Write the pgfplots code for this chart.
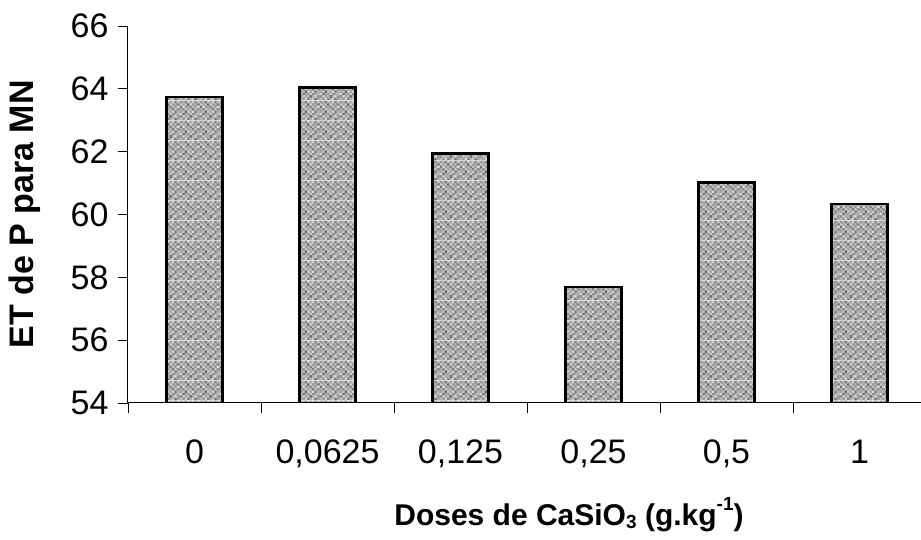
\documentclass[border=0pt]{standalone}
\usepackage{pgfplots}
\pgfplotsset{compat=1.18}
\usepackage{fontspec}
\setmainfont{Liberation Sans}
\usetikzlibrary{patterns}

\pgfdeclarepatterninherentlycolored{speckle}{\pgfpointorigin}{\pgfqpoint{20pt}{20pt}}{\pgfqpoint{20pt}{20pt}}{%
  \pgfsetfillcolor{black!33}%
  \pgfpathrectangle{\pgfpointorigin}{\pgfqpoint{20pt}{20pt}}%
  \pgfusepath{fill}%
  \foreach \c [count=\i from 0] in {25,40,15,50,30,20,55,35,
                                    45,20,35,25,60,30,15,40,
                                    15,55,30,40,20,45,35,25,
                                    35,25,62,20,35,15,50,30,
                                    30,45,20,35,25,55,20,45,
                                    55,15,40,30,50,25,40,15,
                                    20,35,25,60,15,40,30,50,
                                    40,30,50,20,35,20,45,25}{%
    \pgfmathsetmacro\px{mod(\i,8)*2.5}%
    \pgfmathsetmacro\py{floor(\i/8)*2.5}%
    \pgfsetfillcolor{black!\c}%
    \pgfpathrectangle{\pgfpoint{\px pt}{\py pt}}{\pgfqpoint{2.7pt}{2.7pt}}%
    \pgfusepath{fill}}%
}

\pgfplotstableread{
x y
0 63.73
1 64.04
2 61.94
3 57.68
4 61.02
5 60.33
}\datatable

\begin{document}
\begin{tikzpicture}
\useasboundingbox (-128pt,-137pt) rectangle (793pt,403pt);
\begin{axis}[
  at={(0pt,0pt)}, anchor=south west,
  scale only axis, width=798pt, height=377pt,
  xmin=-0.5, xmax=5.5, ymin=54, ymax=66,
  axis lines*=left,
  axis line style={line width=1pt, -},
  tick align=outside,
  major tick length=10pt, minor tick length=10pt,
  ytick={54,56,...,66},
  xtick={0,1,2,3,4,5},
  xticklabels={0,{0,0625},{0,125},{0,25},{0,5},1},
  minor xtick={-0.5,0.5,1.5,2.5,3.5,4.5},
  major x tick style={draw=none},
  minor x tick style={black, line width=0.8pt},
  y tick style={black, line width=0.8pt},
  /pgf/number format/assume math mode=true,
  yticklabel style={font=\fontsize{34}{34}\selectfont, xshift=-6pt},
  xticklabel style={font=\fontsize{34}{34}\selectfont, anchor=base, yshift=-50pt},
  xlabel={\textbf{Doses de CaSiO\raisebox{-0.12em}{\fontsize{19}{19}\selectfont 3} (g.kg\raisebox{0.5em}{\fontsize{19}{19}\selectfont -1})}},
  ylabel={\textbf{ET de P para MN}},
  xlabel style={font=\fontsize{30}{30}\selectfont, at={(axis description cs:0.5526,-0.324)}, anchor=base},
  ylabel style={font=\fontsize{34}{34}\selectfont, at={(axis description cs:-0.129,0.5)}, anchor=center, rotate=0},
  ybar, bar width=56pt,
]
\addplot[draw=black, line width=2.2pt, pattern=speckle] table[x=x,y=y] {\datatable};
\end{axis}
\end{tikzpicture}
\end{document}
